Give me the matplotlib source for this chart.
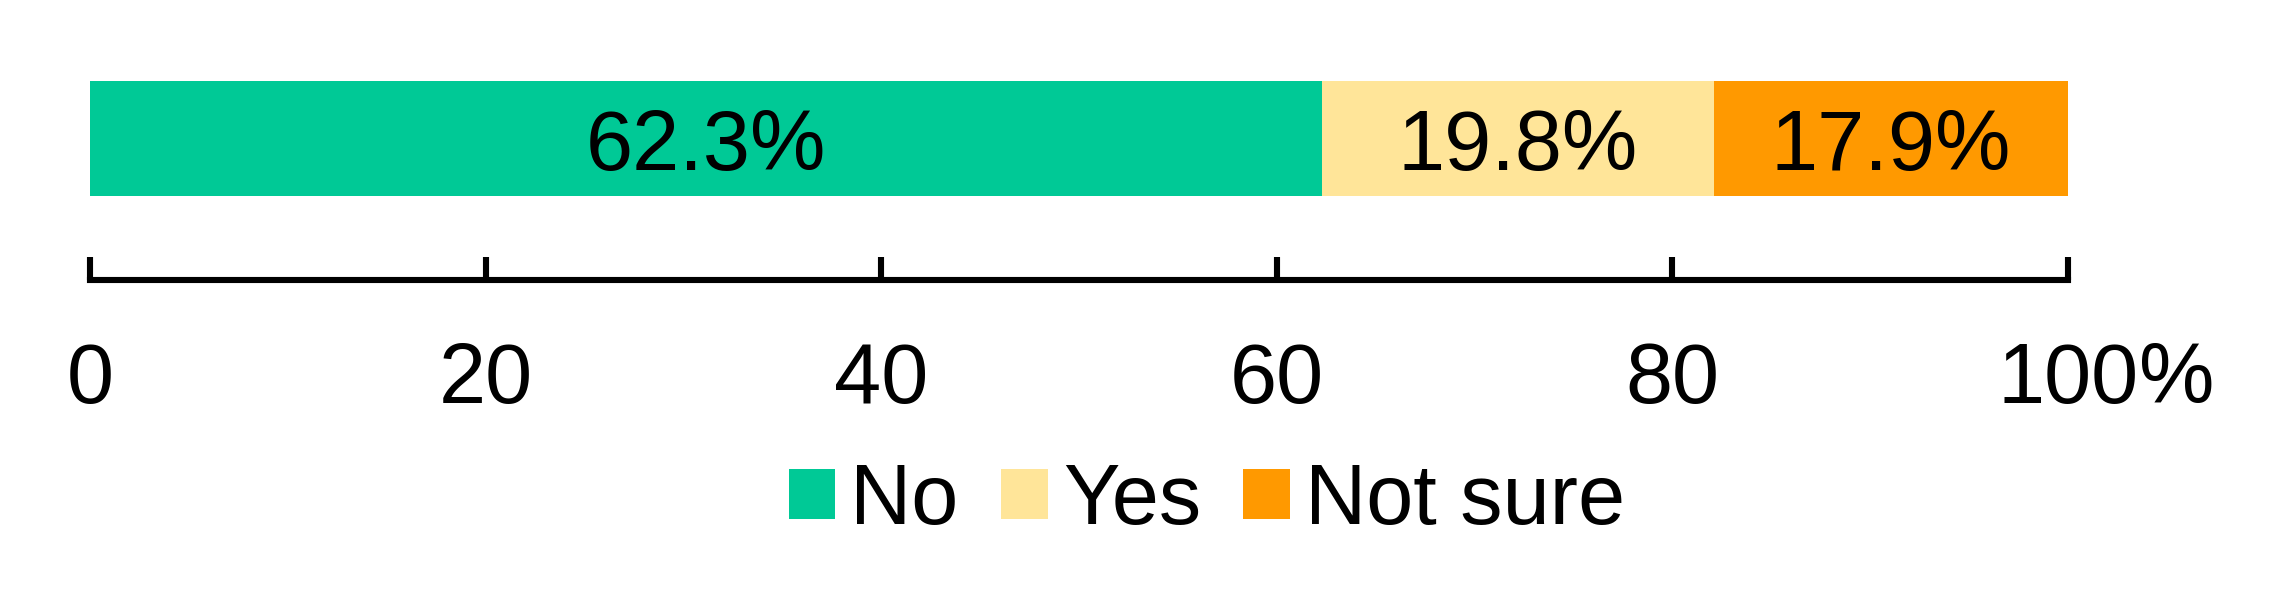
import numpy as np
import matplotlib
matplotlib.use("Agg")
import matplotlib.pyplot as plt

# data
categories = ["No", "Yes", "Not sure"]
shares = [62.3, 19.8, 17.9]
colors = ["#00C996", "#FFE599", "#FF9900"]
tick_values = [0, 20, 40, 60, 80, 100]
tick_labels = ["0", "20", "40", "60", "80", "100"]

plt.rcParams['font.family'] = ['Liberation Sans', 'DejaVu Sans']
FS = 30.5

W, H = 2289, 594
fig = plt.figure(figsize=(W / 200, H / 200), dpi=200)
ax = fig.add_axes([90 / W, 1 - 280 / H, (2068 - 90) / W, (280 - 81) / H])

left = 0
for name, val, col in zip(categories, shares, colors):
    ax.barh(0, val, left=left, height=1, align='edge', color=col, label=name)
    ax.text(left + val / 2, 0.23, f"{val:.1f}%", ha='center', va='baseline', fontsize=FS)
    left += val

ax.set_xlim(0, 100)
ax.set_ylim(-0.73, 1)
ax.set_yticks([])
ax.set_xticks(tick_values)
ax.set_xticklabels(tick_labels, fontsize=FS)
ax.tick_params(axis='x', direction='in', length=8.3, width=2.2, pad=22)
for s in ['top', 'left', 'right']:
    ax.spines[s].set_visible(False)
ax.spines['bottom'].set_linewidth(2.2)

# percent sign following the "100" label
ax.annotate("%", xy=(100, 0), xycoords=ax.get_xaxis_transform(),
            xytext=(25.4, -22), textcoords='offset points',
            ha='left', va='top', fontsize=FS)

fig.legend(loc='center', bbox_to_anchor=(1207 / W, 1 - 502 / H), ncol=3,
           frameon=False, fontsize=FS, handlelength=0.55, handleheight=0.52,
           handletextpad=0.18, columnspacing=0.5, borderpad=0)

fig.savefig("out.png", dpi=200)
